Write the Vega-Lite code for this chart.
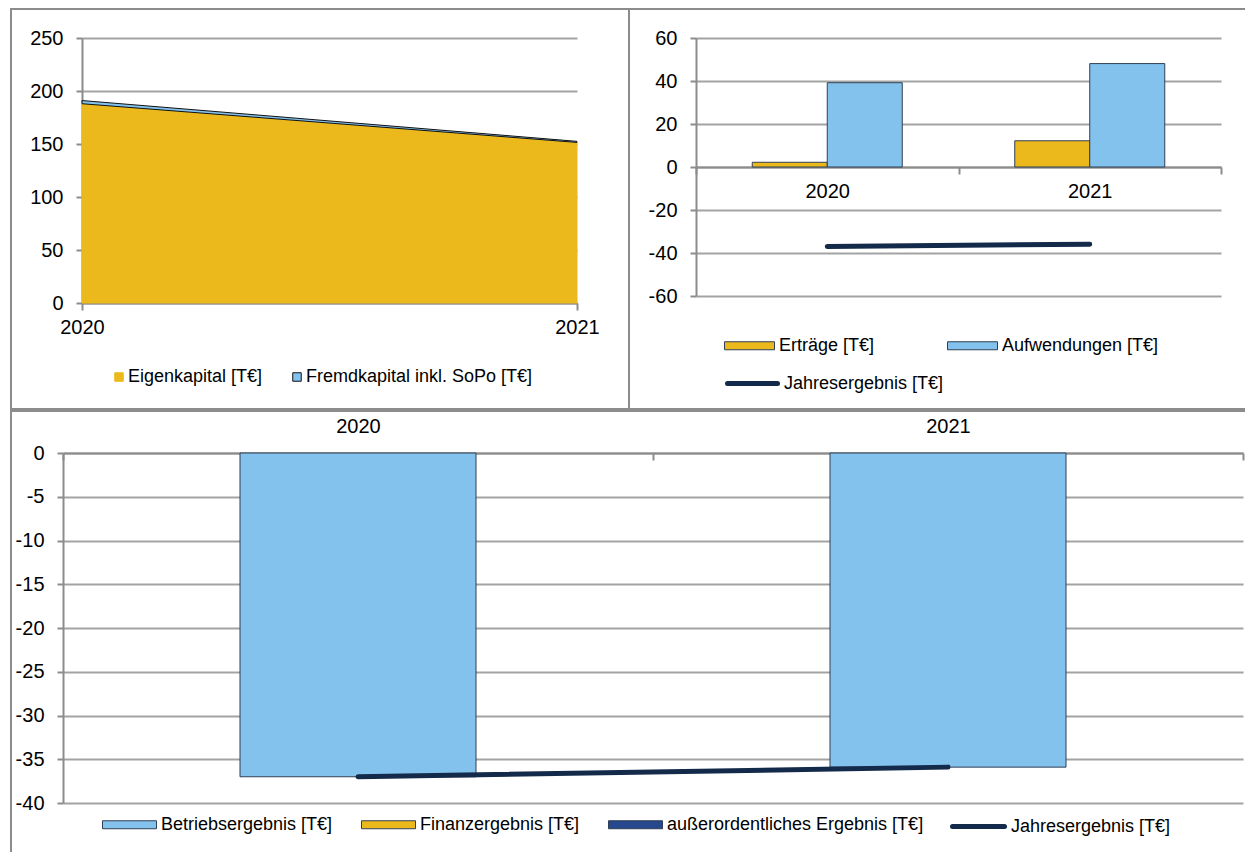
{
  "$schema": "https://vega.github.io/schema/vega-lite/v6.json",
  "padding": {"left": 10, "top": 8, "right": 0, "bottom": 0},
  "background": "white",
  "spacing": 0,
  "resolve": {
    "scale": {"fill": "independent", "stroke": "independent"},
    "legend": {"fill": "independent", "stroke": "independent"}
  },
  "config": {
    "font": "Liberation Sans",
    "view": {"stroke": "#8c8c8c", "strokeWidth": 2},
    "axis": {
      "title": null,
      "labelFont": "Liberation Sans",
      "labelFontSize": 20,
      "labelColor": "#000000",
      "domainColor": "#8c8c8c",
      "domainWidth": 2,
      "tickColor": "#8c8c8c",
      "tickWidth": 2,
      "gridColor": "#a3a3a3",
      "gridWidth": 2,
      "labelFlush": false,
      "labelOverlap": false
    },
    "legend": {
      "title": null,
      "labelFont": "Liberation Sans",
      "labelFontSize": 18,
      "labelColor": "#000000",
      "labelLimit": 400,
      "orient": "none",
      "direction": "horizontal",
      "labelOffset": 4,
      "padding": 0,
      "symbolStrokeColor": "#2f3f55",
      "symbolStrokeWidth": 1
    }
  },
  "vconcat": [
    {
      "spacing": 0,
      "bounds": "flush",
      "resolve": {
        "scale": {"fill": "independent", "stroke": "independent"},
        "legend": {"fill": "independent", "stroke": "independent"}
      },
      "hconcat": [
        {
          "width": 618,
          "height": 400,
          "data": {
            "values": [
              {"jahr": 2020, "posten": "Eigenkapital [T€]", "wert": 188},
              {"jahr": 2021, "posten": "Eigenkapital [T€]", "wert": 151.5},
              {"jahr": 2020, "posten": "Fremdkapital inkl. SoPo [T€]", "wert": 3},
              {"jahr": 2021, "posten": "Fremdkapital inkl. SoPo [T€]", "wert": 1}
            ]
          },
          "mark": {"type": "area", "strokeWidth": 1, "strokeJoin": "round"},
          "encoding": {
            "x": {
              "field": "jahr",
              "type": "quantitative",
              "scale": {"domain": [2020, 2021], "range": [71, 566], "nice": false, "zero": false},
              "axis": {"orient": "bottom", "offset": -106, "values": [2020, 2021], "format": "d", "grid": false, "tickSize": 7, "labelPadding": 7}
            },
            "y": {
              "field": "wert",
              "type": "quantitative",
              "stack": "zero",
              "scale": {"domain": [0, 250], "range": [294, 29], "nice": false},
              "axis": {"orient": "left", "offset": -71, "values": [0, 50, 100, 150, 200, 250], "grid": true, "tickSize": 6, "labelPadding": 13}
            },
            "order": {"field": "posten", "sort": "ascending"},
            "fill": {
              "field": "posten",
              "type": "nominal",
              "scale": {"domain": ["Eigenkapital [T€]", "Fremdkapital inkl. SoPo [T€]"], "range": ["#EBB91C", "#84C2EE"]},
              "legend": {"legendX": 99, "legendY": 359, "symbolType": "square", "symbolSize": 72, "columnPadding": 25, "labelOffset": 0}
            },
            "stroke": {
              "field": "posten",
              "type": "nominal",
              "scale": {"domain": ["Eigenkapital [T€]", "Fremdkapital inkl. SoPo [T€]"], "range": ["#EBB91C", "#111111"]},
              "legend": null
            }
          }
        },
        {
          "width": 619,
          "height": 400,
          "layer": [
            {
              "data": {
                "values": [
                  {"jahr": "2020", "reihe": "Erträge [T€]", "wert": 2.2},
                  {"jahr": "2020", "reihe": "Aufwendungen [T€]", "wert": 39.2},
                  {"jahr": "2021", "reihe": "Erträge [T€]", "wert": 12.2},
                  {"jahr": "2021", "reihe": "Aufwendungen [T€]", "wert": 48.1}
                ]
              },
              "mark": {"type": "bar", "stroke": "#2f3f55", "strokeWidth": 1},
              "encoding": {
                "x": {
                  "field": "jahr",
                  "type": "nominal",
                  "scale": {"domain": ["2020", "2021"], "range": [67, 592], "paddingInner": 0, "paddingOuter": 0},
                  "axis": {"orient": "bottom", "offset": -242, "tickBand": "extent", "labelAngle": 0, "grid": false, "tickSize": 7, "labelPadding": 7}
                },
                "xOffset": {
                  "field": "reihe",
                  "type": "nominal",
                  "scale": {"domain": ["Erträge [T€]", "Aufwendungen [T€]"], "paddingInner": 0, "paddingOuter": 0.75}
                },
                "y": {
                  "field": "wert",
                  "type": "quantitative",
                  "stack": null,
                  "scale": {"domain": [-60, 60], "range": [287, 29], "nice": false},
                  "axis": {
                    "orient": "left",
                    "offset": -67,
                    "values": [-60, -40, -20, 0, 20, 40, 60],
                    "grid": true,
                    "tickSize": 6,
                    "labelPadding": 13,
                    "labelExpr": "datum.value < 0 ? '-' + abs(datum.value) : '' + datum.value"
                  }
                },
                "fill": {
                  "field": "reihe",
                  "type": "nominal",
                  "scale": {"domain": ["Erträge [T€]", "Aufwendungen [T€]"], "range": ["#EBB91C", "#84C2EE"]},
                  "legend": {"legendX": 95, "legendY": 311, "symbolType": "M-1,-0.16L1,-0.16L1,0.16L-1,0.16Z", "symbolSize": 2500, "columnPadding": 70}
                }
              }
            },
            {
              "data": {
                "values": [
                  {"jahr": "2020", "reihe": "Jahresergebnis [T€]", "wert": -37.0},
                  {"jahr": "2021", "reihe": "Jahresergebnis [T€]", "wert": -35.9}
                ]
              },
              "mark": {"type": "line", "strokeWidth": 5, "strokeCap": "round"},
              "encoding": {
                "x": {"field": "jahr", "type": "nominal"},
                "y": {"field": "wert", "type": "quantitative"},
                "stroke": {
                  "field": "reihe",
                  "type": "nominal",
                  "scale": {"domain": ["Jahresergebnis [T€]"], "range": ["#132A4A"]},
                  "legend": {
                    "legendX": 96,
                    "legendY": 347,
                    "symbolType": "stroke",
                    "symbolSize": 2500,
                    "symbolStrokeWidth": 5,
                    "encode": {"symbols": {"update": {"strokeCap": {"value": "round"}}}}
                  }
                }
              }
            }
          ]
        }
      ]
    },
    {
      "width": 1237,
      "height": 452,
      "layer": [
        {
          "data": {
            "values": [
              {"jahr": "2020", "reihe": "Betriebsergebnis [T€]", "wert": -37.0},
              {"jahr": "2021", "reihe": "Betriebsergebnis [T€]", "wert": -35.9}
            ]
          },
          "mark": {"type": "bar", "width": {"band": 0.4}, "stroke": "#2f3f55", "strokeWidth": 1},
          "encoding": {
            "x": {
              "field": "jahr",
              "type": "nominal",
              "scale": {"domain": ["2020", "2021"], "range": [52, 1232], "paddingInner": 0, "paddingOuter": 0},
              "axis": {"orient": "top", "offset": -42, "tickBand": "extent", "labelAngle": 0, "grid": false, "tickSize": -7, "labelPadding": 24}
            },
            "y": {
              "field": "wert",
              "type": "quantitative",
              "scale": {"domain": [-40, 0], "range": [392, 42], "nice": false},
              "axis": {
                "orient": "left",
                "offset": -52,
                "values": [0, -5, -10, -15, -20, -25, -30, -35, -40],
                "grid": true,
                "tickSize": 6,
                "labelPadding": 13,
                "labelExpr": "datum.value < 0 ? '-' + abs(datum.value) : '' + datum.value"
              }
            },
            "fill": {
              "field": "reihe",
              "type": "nominal",
              "scale": {
                "domain": ["Betriebsergebnis [T€]", "Finanzergebnis [T€]", "außerordentliches Ergebnis [T€]"],
                "range": ["#84C2EE", "#EBB91C", "#27478E"]
              },
              "legend": {"legendX": 91, "legendY": 386, "symbolType": "M-1,-0.148L1,-0.148L1,0.148L-1,0.148Z", "symbolSize": 2916, "columnPadding": 26}
            }
          }
        },
        {
          "data": {
            "values": [
              {"jahr": "2020", "reihe": "Jahresergebnis [T€]", "wert": -37.0},
              {"jahr": "2021", "reihe": "Jahresergebnis [T€]", "wert": -35.9}
            ]
          },
          "mark": {"type": "line", "strokeWidth": 5, "strokeCap": "round"},
          "encoding": {
            "x": {"field": "jahr", "type": "nominal"},
            "y": {"field": "wert", "type": "quantitative"},
            "stroke": {
              "field": "reihe",
              "type": "nominal",
              "scale": {"domain": ["Jahresergebnis [T€]"], "range": ["#132A4A"]},
              "legend": {
                "legendX": 939,
                "legendY": 387,
                "symbolType": "stroke",
                "symbolSize": 2704,
                "symbolStrokeWidth": 5,
                "encode": {"symbols": {"update": {"strokeCap": {"value": "round"}}}}
              }
            }
          }
        }
      ]
    }
  ]
}
